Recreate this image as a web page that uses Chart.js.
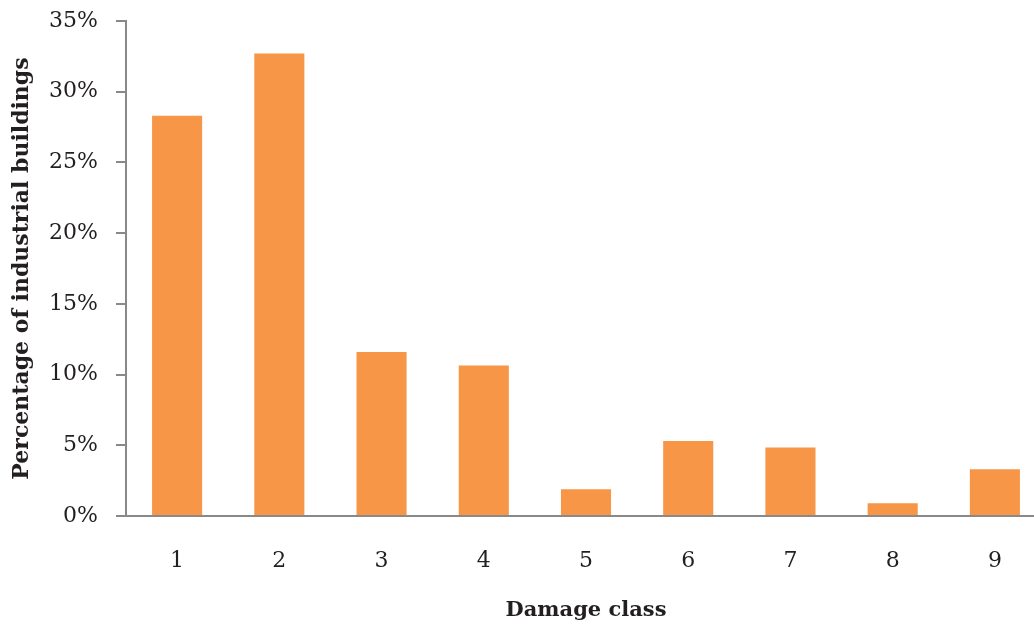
<!DOCTYPE html>
<html>
<head>
<meta charset="utf-8">
<script src="https://cdn.jsdelivr.net/npm/chart.js@4.4.1/dist/chart.umd.min.js"></script>
<style>
  html, body { margin: 0; padding: 0; background: #fff; overflow: hidden; }
  #wrap { width: 1034px; height: 628px; overflow: hidden; }
  canvas { display: block; }
</style>
</head>
<body>
<div id="wrap">
  <canvas id="damageChart" width="1046" height="628"></canvas>
</div>
<script>
const damageClasses = ['1', '2', '3', '4', '5', '6', '7', '8', '9'];
const buildingShare = [28.3, 32.7, 11.6, 10.65, 1.9, 5.3, 4.85, 0.9, 3.3];
const yTicks = [0, 5, 10, 15, 20, 25, 30, 35];

const axisGrey = '#898989';
const textDark = '#231f20';
const serif = "'DejaVu Serif', 'Liberation Serif', serif";

const ctx = document.getElementById('damageChart').getContext('2d');

new Chart(ctx, {
  type: 'bar',
  data: {
    labels: damageClasses,
    datasets: [{
      label: 'Industrial buildings',
      data: buildingShare,
      backgroundColor: '#f79646',
      borderWidth: 0,
      barPercentage: 0.49,
      categoryPercentage: 1.0
    }]
  },
  options: {
    responsive: false,
    animation: false,
    devicePixelRatio: 1,
    layout: {
      padding: { top: 21, right: 0, bottom: 0, left: 0 }
    },
    plugins: {
      legend: { display: false },
      tooltip: { enabled: false }
    },
    scales: {
      x: {
        grid: { display: false, drawTicks: false },
        border: { display: true, color: axisGrey, width: 2 },
        ticks: {
          color: textDark,
          padding: 32,
          font: { family: serif, size: 22 }
        },
        title: {
          display: true,
          text: 'Damage class',
          color: textDark,
          padding: { top: 0, bottom: 5 },
          font: { family: serif, size: 21, weight: 'bold' }
        },
        afterFit(scale) {
          scale.height = 112;
          scale.paddingLeft = 0;
          scale.paddingRight = 0;
        }
      },
      y: {
        min: 0,
        max: 35,
        afterBuildTicks(scale) {
          scale.ticks = yTicks.map(v => ({ value: v }));
        },
        grid: {
          drawOnChartArea: false,
          drawTicks: true,
          tickLength: 10,
          color: axisGrey,
          lineWidth: 2
        },
        border: { display: true, color: axisGrey, width: 2 },
        ticks: {
          color: textDark,
          padding: 18,
          font: { family: serif, size: 22 },
          callback: v => v + '%'
        },
        title: {
          display: true,
          text: 'Percentage of industrial buildings',
          color: textDark,
          padding: { top: 9, bottom: 0 },
          font: { family: serif, size: 22, weight: 'bold' }
        },
        afterFit(scale) {
          scale.width = 126;
          scale.paddingTop = 0;
          scale.paddingBottom = 0;
        }
      }
    }
  }
});
</script>
</body>
</html>
